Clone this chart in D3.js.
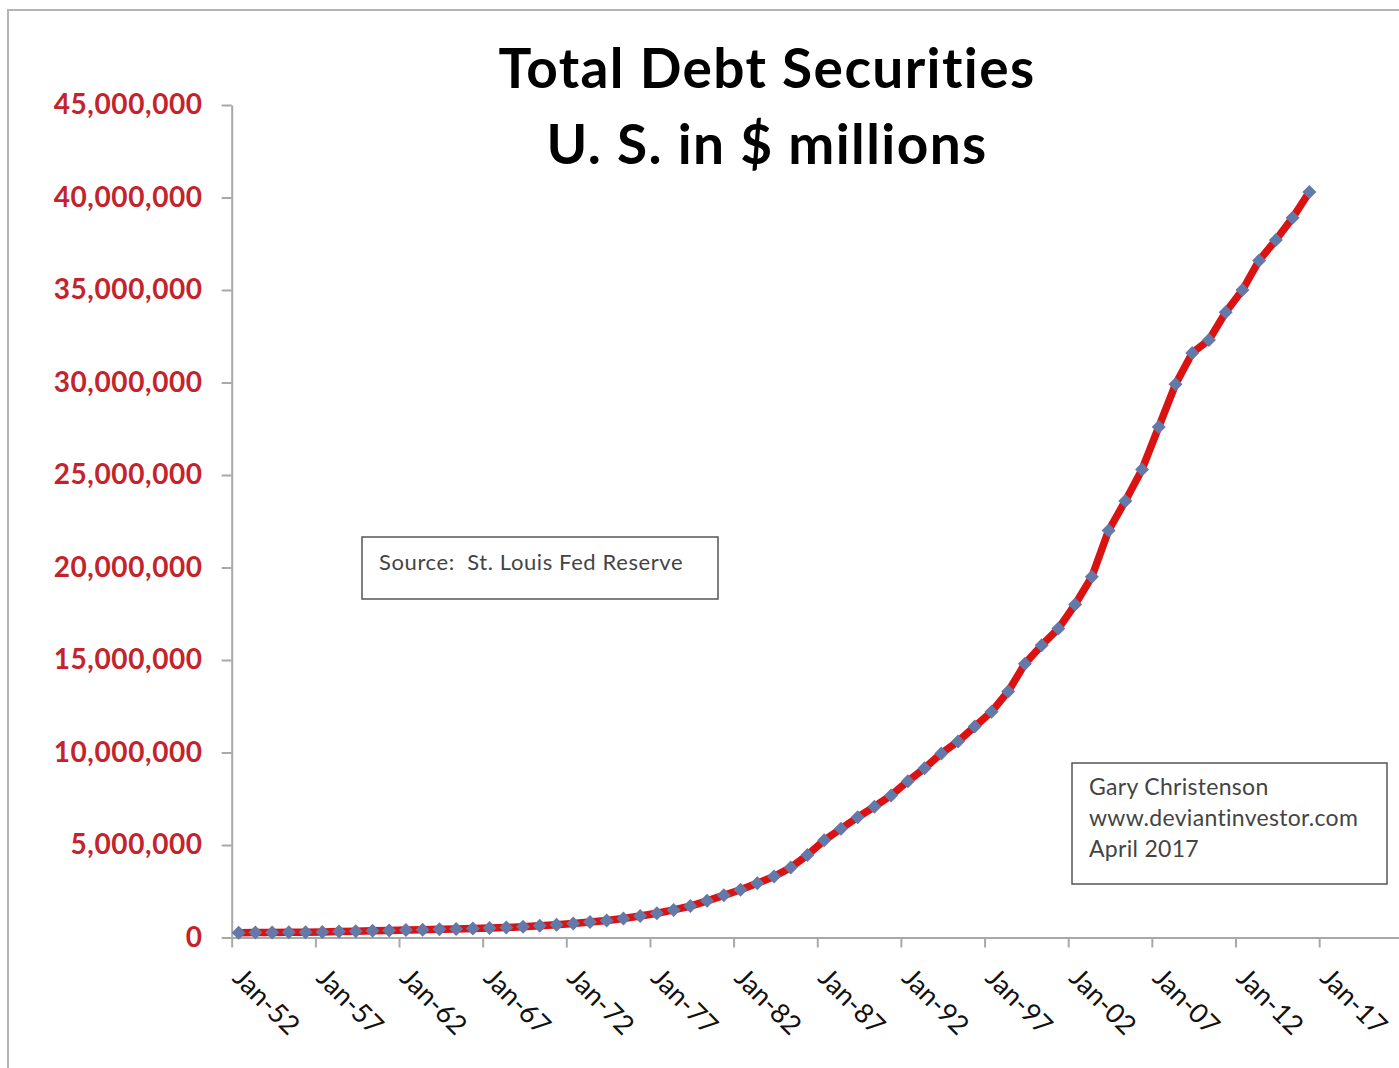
<!DOCTYPE html>
<html>
<head>
<meta charset="utf-8">
<script src="https://cdn.jsdelivr.net/npm/d3@7"></script>
<style>
  body { margin: 0; background: #fff; }
  svg { display: block; font-family: Lato, "Open Sans", sans-serif; font-variant-ligatures: none; }
  text { white-space: pre; }
</style>
</head>
<body>
<svg id="chart" width="1399" height="1068"></svg>
<script>
const years = [1952, 1953, 1954, 1955, 1956, 1957, 1958, 1959, 1960, 1961,
  1962, 1963, 1964, 1965, 1966, 1967, 1968, 1969, 1970, 1971,
  1972, 1973, 1974, 1975, 1976, 1977, 1978, 1979, 1980, 1981,
  1982, 1983, 1984, 1985, 1986, 1987, 1988, 1989, 1990, 1991,
  1992, 1993, 1994, 1995, 1996, 1997, 1998, 1999, 2000, 2001,
  2002, 2003, 2004, 2005, 2006, 2007, 2008, 2009, 2010, 2011,
  2012, 2013, 2014, 2015, 2016];
const debt = [260000, 270000, 275000, 282000, 290000, 300000, 320000, 340000, 360000, 380000,
  400000, 420000, 440000, 460000, 480000, 510000, 540000, 580000, 630000, 690000,
  760000, 840000, 920000, 1030000, 1160000, 1310000, 1490000, 1700000, 1980000, 2280000,
  2580000, 2930000, 3300000, 3780000, 4460000, 5250000, 5880000, 6500000, 7070000, 7680000,
  8450000, 9150000, 9950000, 10600000, 11400000, 12200000, 13300000, 14800000, 15800000, 16700000,
  18000000, 19500000, 22000000, 23600000, 25300000, 27600000, 29900000, 31600000, 32300000, 33800000,
  35000000, 36600000, 37700000, 38900000, 40300000];

const yTicks = [0, 5000000, 10000000, 15000000, 20000000, 25000000, 30000000, 35000000, 40000000, 45000000];
const xTickYears = [1952, 1957, 1962, 1967, 1972, 1977, 1982, 1987, 1992, 1997, 2002, 2007, 2012, 2017];

const titleLines = ["Total Debt Securities", "U. S. in $ millions"];
const sourceNote = "Source:  St. Louis Fed Reserve";
const creditLines = ["Gary Christenson", "www.deviantinvestor.com", "April 2017"];

const svg = d3.select('#chart');

// outer chart frame (runs off the right and bottom edge in the original)
svg.append('rect')
  .attr('x', 8).attr('y', 10)
  .attr('width', 1440).attr('height', 1100)
  .attr('fill', 'none')
  .attr('stroke', '#b4b4b4')
  .attr('stroke-width', 2);

const points = years.map((yr, i) => ({ date: new Date(yr, 5, 1), value: debt[i] }));

const x = d3.scaleTime()
  .domain([new Date(1952, 0, 1), new Date(2022, 0, 1)])
  .range([231.7, 1402.8]);

const y = d3.scaleLinear()
  .domain([0, 45000000])
  .range([937.5, 105]);

// y axis
const yAxis = svg.append('g')
  .attr('transform', `translate(${x.range()[0]},0)`)
  .call(d3.axisLeft(y)
    .tickValues(yTicks)
    .tickFormat(d3.format(','))
    .tickSize(10)
    .tickSizeOuter(0)
    .tickPadding(19));

yAxis.selectAll('path, line').attr('stroke', '#a8a8a8').attr('stroke-width', 2);
yAxis.selectAll('text')
  .attr('fill', '#c4232b')
  .attr('font-size', 28)
  .attr('font-weight', 700)
  .attr('letter-spacing', 0.6)
  .attr('font-family', 'Lato, sans-serif');

// x axis
const xAxis = svg.append('g')
  .attr('transform', `translate(0,${y(0)})`)
  .call(d3.axisBottom(x)
    .tickValues(xTickYears.map(yr => new Date(yr, 0, 1)))
    .tickFormat(d3.timeFormat('%b-%y'))
    .tickSize(10)
    .tickSizeOuter(0));

xAxis.selectAll('path, line').attr('stroke', '#a8a8a8').attr('stroke-width', 2);
xAxis.selectAll('text')
  .attr('x', 0).attr('y', 0).attr('dy', 0)
  .attr('text-anchor', 'start')
  .attr('transform', 'translate(-1,42) rotate(45)')
  .attr('fill', '#111')
  .attr('font-size', 27)
  .attr('font-family', 'Lato, sans-serif');

// the series
const line = d3.line()
  .x(d => x(d.date))
  .y(d => y(d.value));

svg.append('path')
  .datum(points)
  .attr('d', line)
  .attr('fill', 'none')
  .attr('stroke', '#da1212')
  .attr('stroke-width', 7.5)
  .attr('stroke-linejoin', 'round');

const marker = d3.symbol().type(d3.symbolSquare).size(98);

svg.append('g')
  .selectAll('path')
  .data(points)
  .join('path')
  .attr('d', marker)
  .attr('transform', d => `translate(${x(d.date)},${y(d.value)}) rotate(45)`)
  .attr('fill', '#6479a8');

// title
svg.append('g')
  .selectAll('text')
  .data(titleLines)
  .join('text')
  .attr('x', 767)
  .attr('y', (d, i) => 88 + i * 76)
  .attr('text-anchor', 'middle')
  .attr('font-size', 55)
  .attr('font-weight', 700)
  .attr('letter-spacing', 1.4)
  .attr('fill', '#000')
  .text(d => d);

// source box
const src = svg.append('g').attr('transform', 'translate(362,537)');
src.append('rect')
  .attr('width', 356).attr('height', 62)
  .attr('fill', '#fff')
  .attr('stroke', '#555')
  .attr('stroke-width', 1.5);
src.append('text')
  .attr('x', 17).attr('y', 33)
  .attr('font-size', 22)
  .attr('letter-spacing', 0.6)
  .attr('fill', '#444')
  .text(sourceNote);

// credit box
const credit = svg.append('g').attr('transform', 'translate(1072,763)');
credit.append('rect')
  .attr('width', 315).attr('height', 121)
  .attr('fill', '#fff')
  .attr('stroke', '#555')
  .attr('stroke-width', 1.5);
credit.selectAll('text')
  .data(creditLines)
  .join('text')
  .attr('x', 17)
  .attr('y', (d, i) => 32 + i * 31)
  .attr('font-size', 23)
  .attr('letter-spacing', 0.3)
  .attr('fill', '#444')
  .text(d => d);
</script>
</body>
</html>
